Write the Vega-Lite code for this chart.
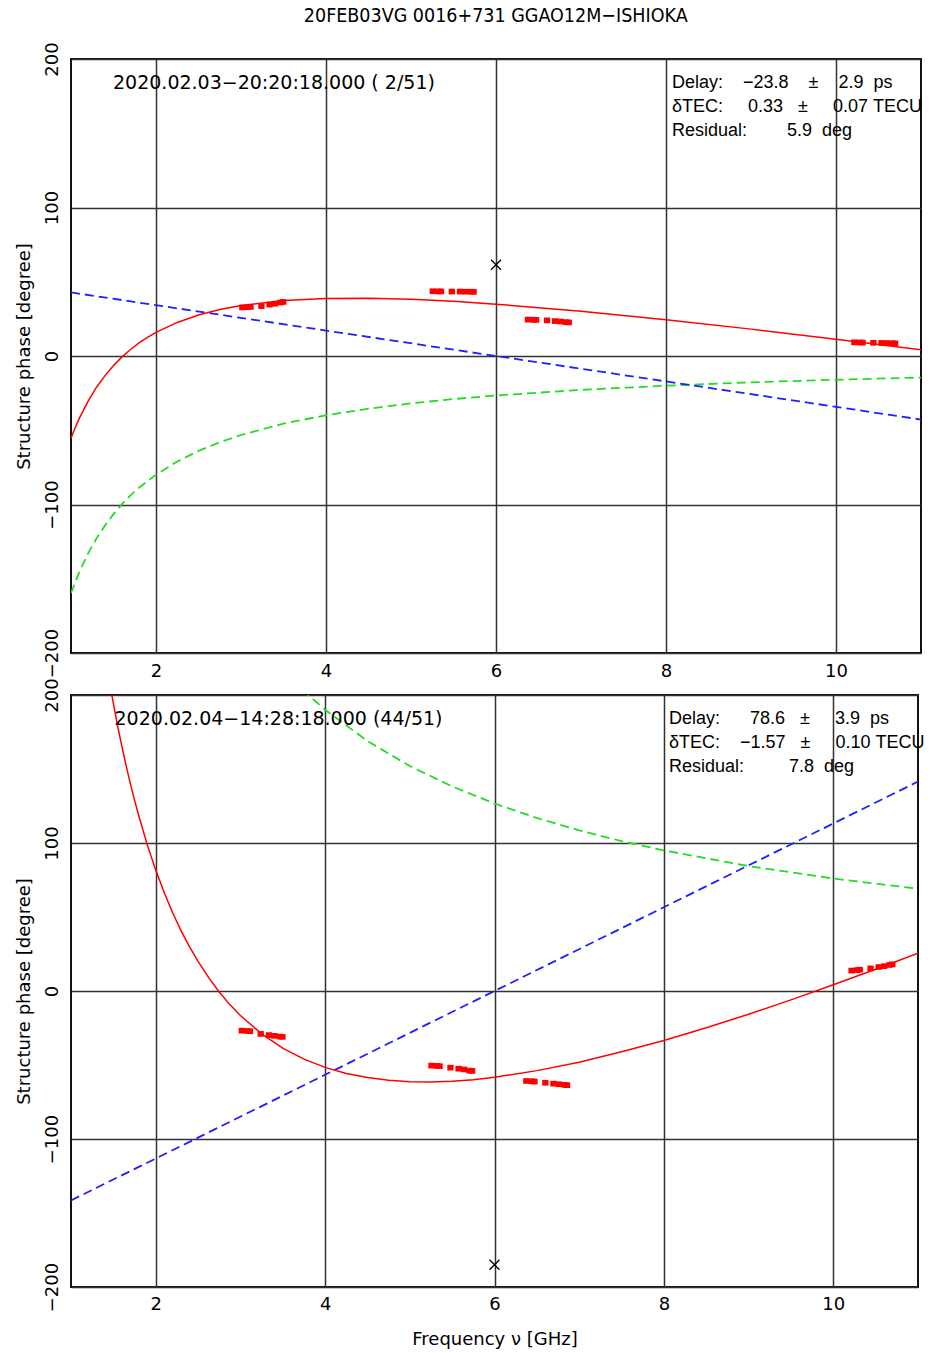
{
  "$schema": "https://vega.github.io/schema/vega-lite/v6.json",
  "background": "white",
  "padding": {"left": 14, "top": 6, "right": 5, "bottom": 5},
  "title": {"text": "20FEB03VG 0016+731 GGAO12M−ISHIOKA", "font": "DejaVu Sans Condensed", "fontSize": 19.5, "fontWeight": "normal", "color": "#000", "anchor": "middle", "offset": 14, "dx": 26},
  "datasets": {
    "top_pts": [
      {"f": 3.016, "phase": 32.7}, {"f": 3.080, "phase": 32.9}, {"f": 3.112, "phase": 33.1}, {"f": 3.240, "phase": 33.6},
      {"f": 3.336, "phase": 34.6}, {"f": 3.400, "phase": 35.2}, {"f": 3.464, "phase": 36.0}, {"f": 3.496, "phase": 36.4},
      {"f": 5.256, "phase": 43.6}, {"f": 5.320, "phase": 43.5}, {"f": 5.352, "phase": 43.5}, {"f": 5.480, "phase": 43.4},
      {"f": 5.576, "phase": 43.4}, {"f": 5.640, "phase": 43.3}, {"f": 5.704, "phase": 43.3}, {"f": 5.736, "phase": 43.2},
      {"f": 6.376, "phase": 24.5}, {"f": 6.440, "phase": 24.4}, {"f": 6.472, "phase": 24.3}, {"f": 6.600, "phase": 24.0},
      {"f": 6.696, "phase": 23.5}, {"f": 6.760, "phase": 23.2}, {"f": 6.824, "phase": 22.8}, {"f": 6.856, "phase": 22.6},
      {"f": 10.216, "phase": 9.2}, {"f": 10.280, "phase": 9.1}, {"f": 10.312, "phase": 9.0}, {"f": 10.440, "phase": 8.9},
      {"f": 10.536, "phase": 8.8}, {"f": 10.600, "phase": 8.7}, {"f": 10.664, "phase": 8.6}, {"f": 10.696, "phase": 8.5}
    ],
    "top_model": [
      {"f": 1.0, "phase": -55.4}, {"f": 1.05, "phase": -48.2}, {"f": 1.1, "phase": -41.7}, {"f": 1.2, "phase": -30.5},
      {"f": 1.3, "phase": -21.0}, {"f": 1.4, "phase": -13.2}, {"f": 1.5, "phase": -6.4}, {"f": 1.6, "phase": -0.6},
      {"f": 1.7, "phase": 4.4}, {"f": 1.8, "phase": 8.8}, {"f": 1.9, "phase": 12.6}, {"f": 2.0, "phase": 15.9},
      {"f": 2.25, "phase": 22.6}, {"f": 2.5, "phase": 27.6}, {"f": 2.75, "phase": 31.3}, {"f": 3.0, "phase": 34.0},
      {"f": 3.5, "phase": 37.3}, {"f": 4.0, "phase": 38.7}, {"f": 4.5, "phase": 38.9}, {"f": 5.0, "phase": 38.2},
      {"f": 5.5, "phase": 36.8}, {"f": 6.0, "phase": 34.9}, {"f": 7.0, "phase": 30.1}, {"f": 8.0, "phase": 24.4},
      {"f": 9.0, "phase": 18.1}, {"f": 10.0, "phase": 11.2}, {"f": 11.0, "phase": 4.2}
    ],
    "top_tec": [
      {"f": 1.0, "phase": -159.7}, {"f": 1.1, "phase": -145.2}, {"f": 1.2, "phase": -133.1}, {"f": 1.3, "phase": -122.8},
      {"f": 1.4, "phase": -114.1}, {"f": 1.5, "phase": -106.5}, {"f": 1.6, "phase": -99.8}, {"f": 1.7, "phase": -93.9},
      {"f": 1.8, "phase": -88.7}, {"f": 2.0, "phase": -79.9}, {"f": 2.25, "phase": -71.0}, {"f": 2.5, "phase": -63.9},
      {"f": 2.75, "phase": -58.1}, {"f": 3.0, "phase": -53.2}, {"f": 3.5, "phase": -45.6}, {"f": 4.0, "phase": -39.9},
      {"f": 4.5, "phase": -35.5}, {"f": 5.0, "phase": -31.9}, {"f": 5.5, "phase": -29.0}, {"f": 6.0, "phase": -26.6},
      {"f": 7.0, "phase": -22.8}, {"f": 8.0, "phase": -20.0}, {"f": 9.0, "phase": -17.7}, {"f": 10.0, "phase": -16.0},
      {"f": 11.0, "phase": -14.5}
    ],
    "top_delay": [{"f": 1.0, "phase": 42.8}, {"f": 11.0, "phase": -42.8}],
    "top_const": [{"f": 6.0, "phase": 61.5}],
    "bot_pts": [
      {"f": 3.016, "phase": -26.8}, {"f": 3.080, "phase": -27.0}, {"f": 3.112, "phase": -27.2}, {"f": 3.240, "phase": -29.0},
      {"f": 3.336, "phase": -29.8}, {"f": 3.400, "phase": -30.3}, {"f": 3.464, "phase": -30.8}, {"f": 3.496, "phase": -31.0},
      {"f": 5.256, "phase": -50.4}, {"f": 5.320, "phase": -50.6}, {"f": 5.352, "phase": -50.8}, {"f": 5.480, "phase": -51.8},
      {"f": 5.576, "phase": -52.5}, {"f": 5.640, "phase": -53.0}, {"f": 5.704, "phase": -53.8}, {"f": 5.736, "phase": -54.0},
      {"f": 6.376, "phase": -60.8}, {"f": 6.440, "phase": -61.0}, {"f": 6.472, "phase": -61.2}, {"f": 6.600, "phase": -62.0},
      {"f": 6.696, "phase": -62.6}, {"f": 6.760, "phase": -63.0}, {"f": 6.824, "phase": -63.4}, {"f": 6.856, "phase": -63.6},
      {"f": 10.216, "phase": 13.8}, {"f": 10.280, "phase": 14.1}, {"f": 10.312, "phase": 14.4}, {"f": 10.440, "phase": 15.3},
      {"f": 10.536, "phase": 16.2}, {"f": 10.600, "phase": 16.8}, {"f": 10.664, "phase": 17.6}, {"f": 10.696, "phase": 18.0}
    ],
    "bot_model": [
      {"f": 1.4, "phase": 227.6}, {"f": 1.45, "phase": 210.3}, {"f": 1.5, "phase": 194.3}, {"f": 1.55, "phase": 179.2}, {"f": 1.6, "phase": 165.4},
      {"f": 1.65, "phase": 152.4}, {"f": 1.7, "phase": 140.3}, {"f": 1.75, "phase": 129.0}, {"f": 1.8, "phase": 118.4}, {"f": 1.9, "phase": 98.9}, {"f": 2.0, "phase": 81.8},
      {"f": 2.1, "phase": 66.5}, {"f": 2.2, "phase": 52.9}, {"f": 2.3, "phase": 40.6}, {"f": 2.4, "phase": 29.8}, {"f": 2.5, "phase": 20.0},
      {"f": 2.625, "phase": 9.0}, {"f": 2.75, "phase": -0.7}, {"f": 2.875, "phase": -9.2}, {"f": 3.0, "phase": -16.6}, {"f": 3.25, "phase": -29.0}, {"f": 3.5, "phase": -38.6},
      {"f": 3.75, "phase": -46.0}, {"f": 4.0, "phase": -51.6}, {"f": 4.25, "phase": -55.7}, {"f": 4.5, "phase": -58.5}, {"f": 4.75, "phase": -60.3}, {"f": 5.0, "phase": -61.3},
      {"f": 5.25, "phase": -61.5}, {"f": 5.5, "phase": -61.0}, {"f": 5.75, "phase": -59.9}, {"f": 6.0, "phase": -58.3}, {"f": 6.5, "phase": -53.8}, {"f": 7.0, "phase": -48.1},
      {"f": 7.5, "phase": -41.1}, {"f": 8.0, "phase": -33.4}, {"f": 8.5, "phase": -24.8}, {"f": 9.0, "phase": -15.7}, {"f": 9.5, "phase": -6.0},
      {"f": 10.0, "phase": 4.2}, {"f": 10.5, "phase": 14.7}, {"f": 11.0, "phase": 25.6}
    ],
    "bot_tec": [
      {"f": 3.5, "phase": 217.1}, {"f": 3.75, "phase": 202.6}, {"f": 4.0, "phase": 190.0}, {"f": 4.5, "phase": 168.9},
      {"f": 5.0, "phase": 152.0}, {"f": 5.5, "phase": 138.2}, {"f": 6.0, "phase": 126.7}, {"f": 6.5, "phase": 116.9}, {"f": 7.0, "phase": 108.6},
      {"f": 7.5, "phase": 101.3}, {"f": 8.0, "phase": 95.0}, {"f": 9.0, "phase": 84.4}, {"f": 10.0, "phase": 76.0}, {"f": 11.0, "phase": 69.1}
    ],
    "bot_delay": [{"f": 1.0, "phase": -141.5}, {"f": 11.0, "phase": 141.5}],
    "bot_const": [{"f": 6.0, "phase": -185.0}]
  },
  "vconcat": [
    {
      "width": 850,
      "height": 594,
      "layer": [
        {"data": {"name": "top_tec"}, "mark": {"type": "line", "color": "#22dd22", "strokeWidth": 1.8, "strokeDash": [9, 5], "clip": true},
         "encoding": {
           "x": {"field": "f", "type": "quantitative", "scale": {"domain": [1, 11], "nice": false, "zero": false}, "axis": {"values": [2, 4, 6, 8, 10], "format": "d", "title": null, "labelPadding": 9}},
           "y": {"field": "phase", "type": "quantitative", "scale": {"domain": [-200, 200], "nice": false, "zero": false}, "axis": {"values": [-200, -100, 0, 100, 200], "format": "d", "title": "Structure phase [degree]", "labelAngle": -90, "labelPadding": 10, "titlePadding": 10}}
         }},
        {"data": {"name": "top_delay"}, "mark": {"type": "line", "color": "#1f1fff", "strokeWidth": 1.8, "strokeDash": [9, 5], "clip": true},
         "encoding": {"x": {"field": "f", "type": "quantitative"}, "y": {"field": "phase", "type": "quantitative"}}},
        {"data": {"name": "top_model"}, "mark": {"type": "line", "color": "#ff0000", "strokeWidth": 1.5, "clip": true},
         "encoding": {"x": {"field": "f", "type": "quantitative"}, "y": {"field": "phase", "type": "quantitative"}}},
        {"data": {"name": "top_pts"}, "mark": {"type": "point", "shape": "M-1,-0.9L1,-0.9L1,0.9L-1,0.9Z", "size": 40, "filled": true, "color": "#ff0000", "opacity": 1},
         "encoding": {"x": {"field": "f", "type": "quantitative"}, "y": {"field": "phase", "type": "quantitative"}}},
        {"data": {"name": "top_const"}, "mark": {"type": "point", "shape": "M-1,-1L1,1M-1,1L1,-1", "size": 100, "filled": false, "color": "#000", "strokeWidth": 1.3, "opacity": 1},
         "encoding": {"x": {"field": "f", "type": "quantitative"}, "y": {"field": "phase", "type": "quantitative"}}},
        {"data": {"values": [{"t": "2020.02.03−20:20:18.000 (\u00a02/51)"}]}, "mark": {"type": "text", "align": "left", "baseline": "middle", "font": "DejaVu Sans", "fontSize": 19, "color": "#000"},
         "encoding": {"x": {"datum": 1.494, "type": "quantitative"}, "y": {"datum": 183.8, "type": "quantitative"}, "text": {"field": "t"}}},
        {"data": {"values": [{"t": "Delay:\u00a0\u00a0\u00a0\u00a0−23.8\u00a0\u00a0\u00a0\u00a0±\u00a0\u00a0\u00a0\u00a02.9\u00a0\u00a0ps\nδTEC:\u00a0\u00a0\u00a0\u00a0\u00a00.33\u00a0\u00a0\u00a0±\u00a0\u00a0\u00a0\u00a0\u00a00.07\u00a0TECU\nResidual:\u00a0\u00a0\u00a0\u00a0\u00a0\u00a0\u00a0\u00a05.9\u00a0\u00a0deg"}]},
         "mark": {"type": "text", "align": "left", "baseline": "middle", "lineBreak": "\n", "lineHeight": 24, "font": "Liberation Sans", "fontSize": 18, "color": "#000"},
         "encoding": {"x": {"datum": 8.07, "type": "quantitative"}, "y": {"datum": 183.8, "type": "quantitative"}, "text": {"field": "t"}}}
      ]
    },
    {
      "width": 847,
      "height": 592,
      "layer": [
        {"data": {"name": "bot_tec"}, "mark": {"type": "line", "color": "#22dd22", "strokeWidth": 1.8, "strokeDash": [9, 5], "clip": true},
         "encoding": {
           "x": {"field": "f", "type": "quantitative", "scale": {"domain": [1, 11], "nice": false, "zero": false}, "axis": {"values": [2, 4, 6, 8, 10], "format": "d", "title": "Frequency ν [GHz]", "labelPadding": 8, "titlePadding": 17}},
           "y": {"field": "phase", "type": "quantitative", "scale": {"domain": [-200, 200], "nice": false, "zero": false}, "axis": {"values": [-200, -100, 0, 100, 200], "format": "d", "title": "Structure phase [degree]", "labelAngle": -90, "labelPadding": 10, "titlePadding": 10}}
         }},
        {"data": {"name": "bot_delay"}, "mark": {"type": "line", "color": "#1f1fff", "strokeWidth": 1.8, "strokeDash": [9, 5], "clip": true},
         "encoding": {"x": {"field": "f", "type": "quantitative"}, "y": {"field": "phase", "type": "quantitative"}}},
        {"data": {"name": "bot_model"}, "mark": {"type": "line", "color": "#ff0000", "strokeWidth": 1.5, "clip": true},
         "encoding": {"x": {"field": "f", "type": "quantitative"}, "y": {"field": "phase", "type": "quantitative"}}},
        {"data": {"name": "bot_pts"}, "mark": {"type": "point", "shape": "M-1,-0.9L1,-0.9L1,0.9L-1,0.9Z", "size": 40, "filled": true, "color": "#ff0000", "opacity": 1},
         "encoding": {"x": {"field": "f", "type": "quantitative"}, "y": {"field": "phase", "type": "quantitative"}}},
        {"data": {"name": "bot_const"}, "mark": {"type": "point", "shape": "M-1,-1L1,1M-1,1L1,-1", "size": 100, "filled": false, "color": "#000", "strokeWidth": 1.3, "opacity": 1},
         "encoding": {"x": {"field": "f", "type": "quantitative"}, "y": {"field": "phase", "type": "quantitative"}}},
        {"data": {"values": [{"t": "2020.02.04−14:28:18.000 (44/51)"}]}, "mark": {"type": "text", "align": "left", "baseline": "middle", "font": "DejaVu Sans", "fontSize": 19, "color": "#000"},
         "encoding": {"x": {"datum": 1.514, "type": "quantitative"}, "y": {"datum": 183.8, "type": "quantitative"}, "text": {"field": "t"}}},
        {"data": {"values": [{"t": "Delay:\u00a0\u00a0\u00a0\u00a0\u00a0\u00a078.6\u00a0\u00a0\u00a0±\u00a0\u00a0\u00a0\u00a0\u00a03.9\u00a0\u00a0ps\nδTEC:\u00a0\u00a0\u00a0\u00a0−1.57\u00a0\u00a0\u00a0±\u00a0\u00a0\u00a0\u00a0\u00a00.10\u00a0TECU\nResidual:\u00a0\u00a0\u00a0\u00a0\u00a0\u00a0\u00a0\u00a0\u00a07.8\u00a0\u00a0deg"}]},
         "mark": {"type": "text", "align": "left", "baseline": "middle", "lineBreak": "\n", "lineHeight": 24, "font": "Liberation Sans", "fontSize": 18, "color": "#000"},
         "encoding": {"x": {"datum": 8.06, "type": "quantitative"}, "y": {"datum": 183.8, "type": "quantitative"}, "text": {"field": "t"}}}
      ]
    }
  ],
  "spacing": 42,
  "bounds": "flush",
  "config": {
    "view": {"stroke": "#111", "strokeWidth": 2},
    "axis": {"grid": true, "gridColor": "#333", "gridWidth": 1.5, "gridOpacity": 1, "domain": false, "ticks": false,
             "labelFont": "DejaVu Sans", "labelFontSize": 18, "labelColor": "#000",
             "titleFont": "DejaVu Sans", "titleFontSize": 18, "titleFontWeight": "normal", "titleColor": "#000"}
  }
}
